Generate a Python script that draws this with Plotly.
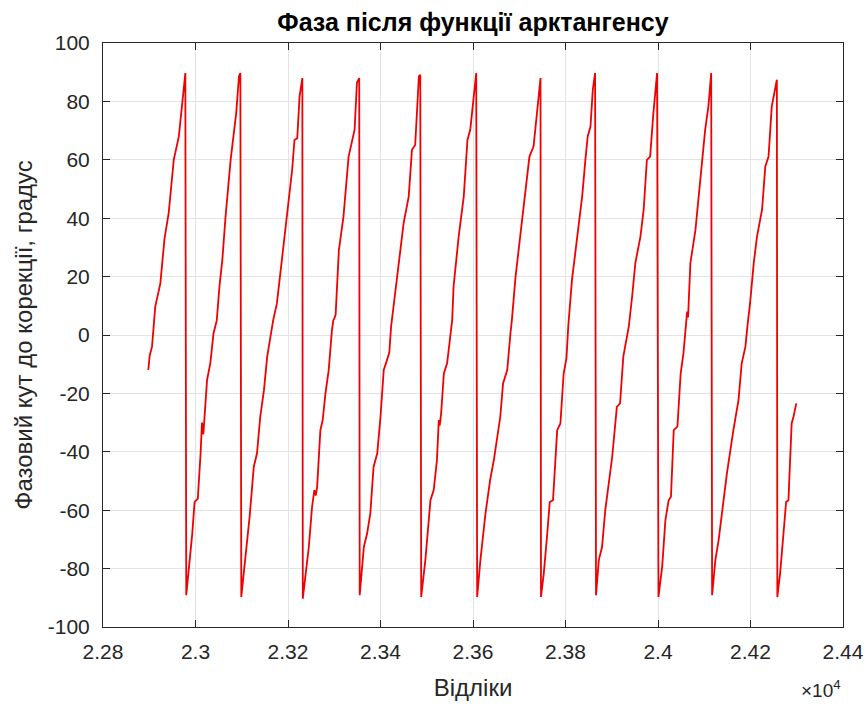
import plotly.graph_objects as go

# Sample index and wrapped phase (degrees) after arctan
sample_index = [
    22898, 22901, 22906, 22909, 22913, 22924, 22933, 22942, 22953, 22964, 22975, 22978,
    22980, 22985, 22993, 22998, 23005, 23011, 23014, 23017, 23019, 23025, 23032, 23039, 23046,
    23052, 23058, 23065, 23076, 23083, 23088, 23094, 23097,
    23099, 23104, 23112, 23117, 23126, 23133, 23140, 23148, 23155, 23162, 23168, 23176, 23187,
    23198, 23209, 23214, 23220, 23225, 23231,
    23232, 23238, 23245, 23252, 23257, 23260, 23263, 23270, 23275, 23281, 23288, 23295, 23298,
    23301, 23303, 23310, 23320, 23331, 23339, 23344, 23349, 23354,
    23355, 23364, 23371, 23378, 23385, 23393, 23400, 23407, 23414, 23419, 23423, 23429, 23439,
    23450, 23461, 23468, 23475, 23483, 23486,
    23488, 23497, 23508, 23515, 23522, 23526, 23528, 23531, 23537, 23544, 23551, 23555, 23558,
    23569, 23580, 23588, 23594, 23601, 23607,
    23609, 23616, 23627, 23637, 23645, 23652, 23659, 23665, 23674, 23681, 23684, 23692, 23702,
    23709, 23722, 23731, 23738, 23746,
    23747, 23753, 23760, 23766, 23773, 23782, 23789, 23796, 23802, 23806, 23814, 23825, 23836,
    23843, 23848, 23854, 23859, 23864,
    23866, 23872, 23879, 23886, 23893, 23901, 23911, 23918, 23925, 23933, 23937, 23944, 23951,
    23962, 23969, 23976, 23983, 23990, 23998,
    24001, 24009, 24016, 24023, 24028, 24034, 24042, 24049, 24055, 24059, 24063, 24065, 24070,
    24081, 24088, 24095, 24102, 24109, 24115,
    24117, 24124, 24131, 24142, 24149, 24163, 24174, 24181, 24189, 24194, 24199, 24207, 24214,
    24225, 24232, 24239, 24246, 24257,
    24258, 24264, 24271, 24277, 24282, 24286, 24289, 24293, 24299,
]

phase_deg = [
    -12, -7, -4, 3, 9.7, 17.7, 33, 41.7, 60, 68, 86.3, 89.7,
    -89.1, -81.7, -68, -57.2, -56, -40.5, -30, -34, -29, -15.4, -9.7, 0.6, 5,
    17, 25.7, 40.6, 60, 70.3, 76, 88.6, 89.7,
    -89.7, -81.7, -68, -62.3, -45.2, -40.5, -28, -18.9, -7.4, -0.6, 5.1, 10.8, 26.8,
    40.6, 56.6, 66.8, 67.4, 81.7, 88,
    -90.3, -82.9, -72.6, -58.9, -53.1, -55, -52, -32.6, -29.1, -20, -12, 1.7, 5,
    6, 7, 29.1, 40.6, 61.1, 66.8, 70.3, 86.3, 88,
    -89.1, -72.6, -68, -61.1, -45.2, -40.5, -28, -12, -8.6, -6, 3, 10.8, 22.3,
    38.3, 47.4, 63.4, 65.1, 88.6, 89.1,
    -89.7, -77.1, -56.6, -53.1, -42.9, -29.1, -31, -27, -13.2, -9.7, 0.6, 5.1, 16.6,
    33.7, 47.4, 66.8, 70.3, 81.7, 89.7,
    -89.7, -77.1, -61.1, -49.7, -42.9, -34.9, -28, -16.6, -12, 0.6, 5, 20, 33.7,
    42.9, 61.1, 64.6, 76, 88,
    -89.7, -81.7, -69.1, -57.2, -56.6, -32.6, -30.3, -13.2, -8, 3, 18.9, 33.7, 47.4,
    60, 68, 71.4, 84, 89.7,
    -89.1, -77.1, -72.6, -60, -52, -41.7, -24.6, -23.4, -7.4, -0.6, 3, 13.1, 24.6,
    33.7, 42.9, 60, 61.1, 76, 89.7,
    -89.7, -79.4, -63.4, -56.6, -55.4, -32.6, -31.4, -13.2, -6.3, 1.7, 8, 6, 24.6,
    36, 47.4, 61.1, 70.3, 78.3, 89.7,
    -89.1, -77.1, -70.3, -55.4, -47.4, -32.6, -22.3, -9.7, -4, 4, 10.8, 24.6, 33.7,
    42.9, 57.7, 61.1, 78.3, 87.4,
    -89.7, -81.7, -68, -57.2, -56.6, -42.9, -30.3, -28, -23.4,
]

x_ticks = [22800, 23000, 23200, 23400, 23600, 23800, 24000, 24200, 24400]
x_tick_text = ["2.28", "2.3", "2.32", "2.34", "2.36", "2.38", "2.4", "2.42", "2.44"]
y_ticks = [-100, -80, -60, -40, -20, 0, 20, 40, 60, 80, 100]
y_tick_text = [str(v) for v in y_ticks]

FONT = "Liberation Sans, Arial, sans-serif"
AXIS_COLOR = "#262626"
GRID_COLOR = "#e3e3e3"

fig = go.Figure()
fig.add_trace(go.Scatter(
    x=sample_index, y=phase_deg, mode="lines",
    line=dict(color="#f00000", width=1.8),
    showlegend=False, hoverinfo="skip",
))

common_axis = dict(
    showline=True, linecolor=AXIS_COLOR, linewidth=1, mirror="allticks",
    ticks="inside", ticklen=7, tickcolor=AXIS_COLOR, tickwidth=1,
    showgrid=True, gridcolor=GRID_COLOR, gridwidth=1, zeroline=False,
    tickfont=dict(family=FONT, size=21, color=AXIS_COLOR),
    automargin=False,
)

fig.update_xaxes(
    range=[22800, 24400], tickmode="array", tickvals=x_ticks, ticktext=x_tick_text,
    title=dict(text="Відліки", font=dict(family=FONT, size=24, color=AXIS_COLOR), standoff=16),
    ticklabelstandoff=6,
    **common_axis,
)
fig.update_yaxes(
    range=[-100, 100], tickmode="array", tickvals=y_ticks, ticktext=y_tick_text,
    title=dict(text="Фазовий кут до корекції, градус",
               font=dict(family=FONT, size=24, color=AXIS_COLOR), standoff=8),
    ticklabelstandoff=8,
    **common_axis,
)

fig.update_layout(
    width=867, height=704,
    margin=dict(l=103, r=24, t=43, b=77),
    paper_bgcolor="white", plot_bgcolor="white",
    title=dict(text="<b>Фаза після функції арктангенсу</b>", x=0.5, xanchor="center",
               xref="paper", y=1 - 22 / 704, yanchor="middle", yref="container",
               font=dict(family=FONT, size=25, color="#000000")),
    annotations=[dict(
        text="×10<sup>4</sup>", xref="paper", yref="paper", x=1.0, y=-0.107,
        xanchor="right", yanchor="middle", showarrow=False,
        font=dict(family=FONT, size=19, color=AXIS_COLOR),
    )],
)

fig.write_html("out.html")
